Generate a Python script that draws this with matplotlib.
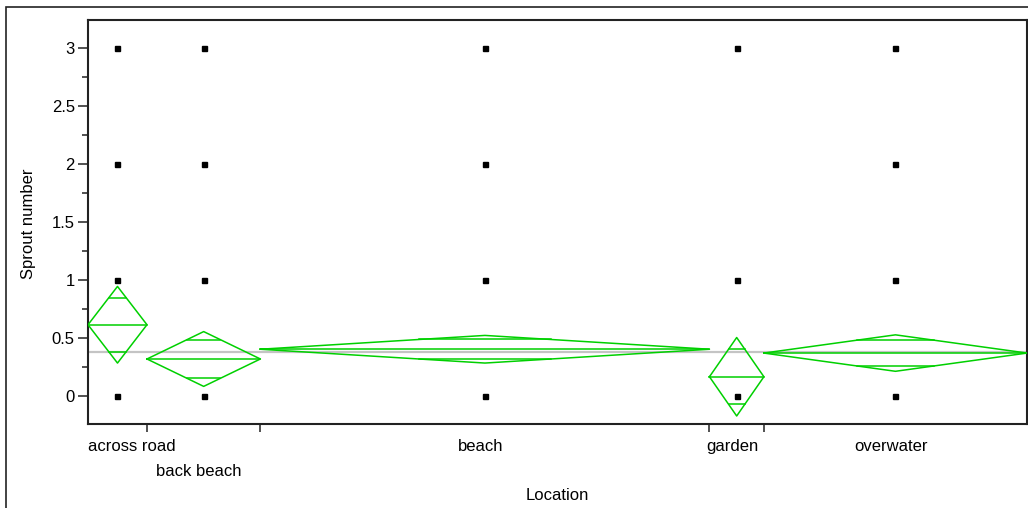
import numpy as np
import matplotlib.pyplot as plt
from matplotlib.patches import Rectangle

plt.rcParams['font.family'] = ['Liberation Sans', 'DejaVu Sans']

locations = ['across road', 'back beach', 'beach', 'garden', 'overwater']
counts = [13, 25, 99, 12, 58]
means = [0.615, 0.320, 0.404, 0.167, 0.371]
ci_half = [0.330, 0.236, 0.119, 0.338, 0.157]
grand_mean = 0.382
sprout_values = [
    [0, 1, 2, 3],
    [0, 1, 2, 3],
    [0, 1, 2, 3],
    [0, 1, 3],
    [0, 1, 2, 3],
]

green = '#00d000'
fs = 12

fig = plt.figure(figsize=(10.28, 5.08), dpi=100)
ax = fig.add_axes([88 / 1028, 1 - 424 / 508, 939 / 1028, 404 / 508])

# outer report frame (left and top edges only show)
fig.patches.append(Rectangle((6 / 1028, -0.1), 1.2, 1 - 7 / 508 + 0.1,
                             transform=fig.transFigure, fill=False,
                             edgecolor='#222222', lw=1.2, zorder=0))

# group widths proportional to group size
edges = np.concatenate([[0], np.cumsum(counts)])
centers = (edges[:-1] + edges[1:]) / 2

ax.axhline(grand_mean, color='#c4c4c4', lw=1.6, zorder=1)

for left, right, c, m, h, vals in zip(edges[:-1], edges[1:], centers,
                                      means, ci_half, sprout_values):
    # means diamond
    ax.plot([left, c, right, c, left], [m, m + h, m, m - h, m],
            color=green, lw=1.1, zorder=3)
    ax.plot([left, right], [m, m], color=green, lw=1.1, zorder=3)
    # overlap marks
    d = h / np.sqrt(2)
    hw = (right - left) / 2 * (1 - 1 / np.sqrt(2))
    for y in (m + d, m - d):
        ax.plot([c - hw, c + hw], [y, y], color=green, lw=1.1, zorder=3)
    ax.plot([c] * len(vals), vals, 's', color='black', ms=3.6, zorder=4)

ax.set_xlim(edges[0], edges[-1])
ax.set_ylim(-0.24, 3.24)

ax.set_yticks([0, 0.5, 1, 1.5, 2, 2.5, 3])
ax.set_yticklabels(['0', '0.5', '1', '1.5', '2', '2.5', '3'])
ax.set_yticks(np.arange(0.25, 3.0, 0.5), minor=True)
ax.tick_params(axis='y', which='major', length=7.5, width=1.1, labelsize=fs,
               color='#222222', pad=2)
ax.tick_params(axis='y', which='minor', length=4.5, width=1.1,
               color='#222222')

ax.set_xticks(edges[1:-1])
ax.set_xticklabels([])
ax.tick_params(axis='x', length=6, width=1.1, color='#222222')

for s in ax.spines.values():
    s.set_linewidth(1.5)
    s.set_color('#222222')

# category labels under each group, staggered where they collide
label_rows = [0, 1, 0, 0, 0]
for name, c, row in zip(locations, centers, label_rows):
    y = -0.056 - 0.062 * row
    if name == 'across road':
        ax.text(0, y, name, transform=ax.get_xaxis_transform(),
                ha='left', va='center', fontsize=fs)
    else:
        ax.text(c - 1, y, name, transform=ax.get_xaxis_transform(),
                ha='center', va='center', fontsize=fs)

fig.text(557 / 1028, 1 - 495 / 508, 'Location', ha='center', va='center',
         fontsize=fs)
fig.text(29 / 1028, 1 - 224 / 508, 'Sprout number', ha='center',
         va='center', rotation=90, fontsize=fs)

fig.savefig('out.png', dpi=100)
